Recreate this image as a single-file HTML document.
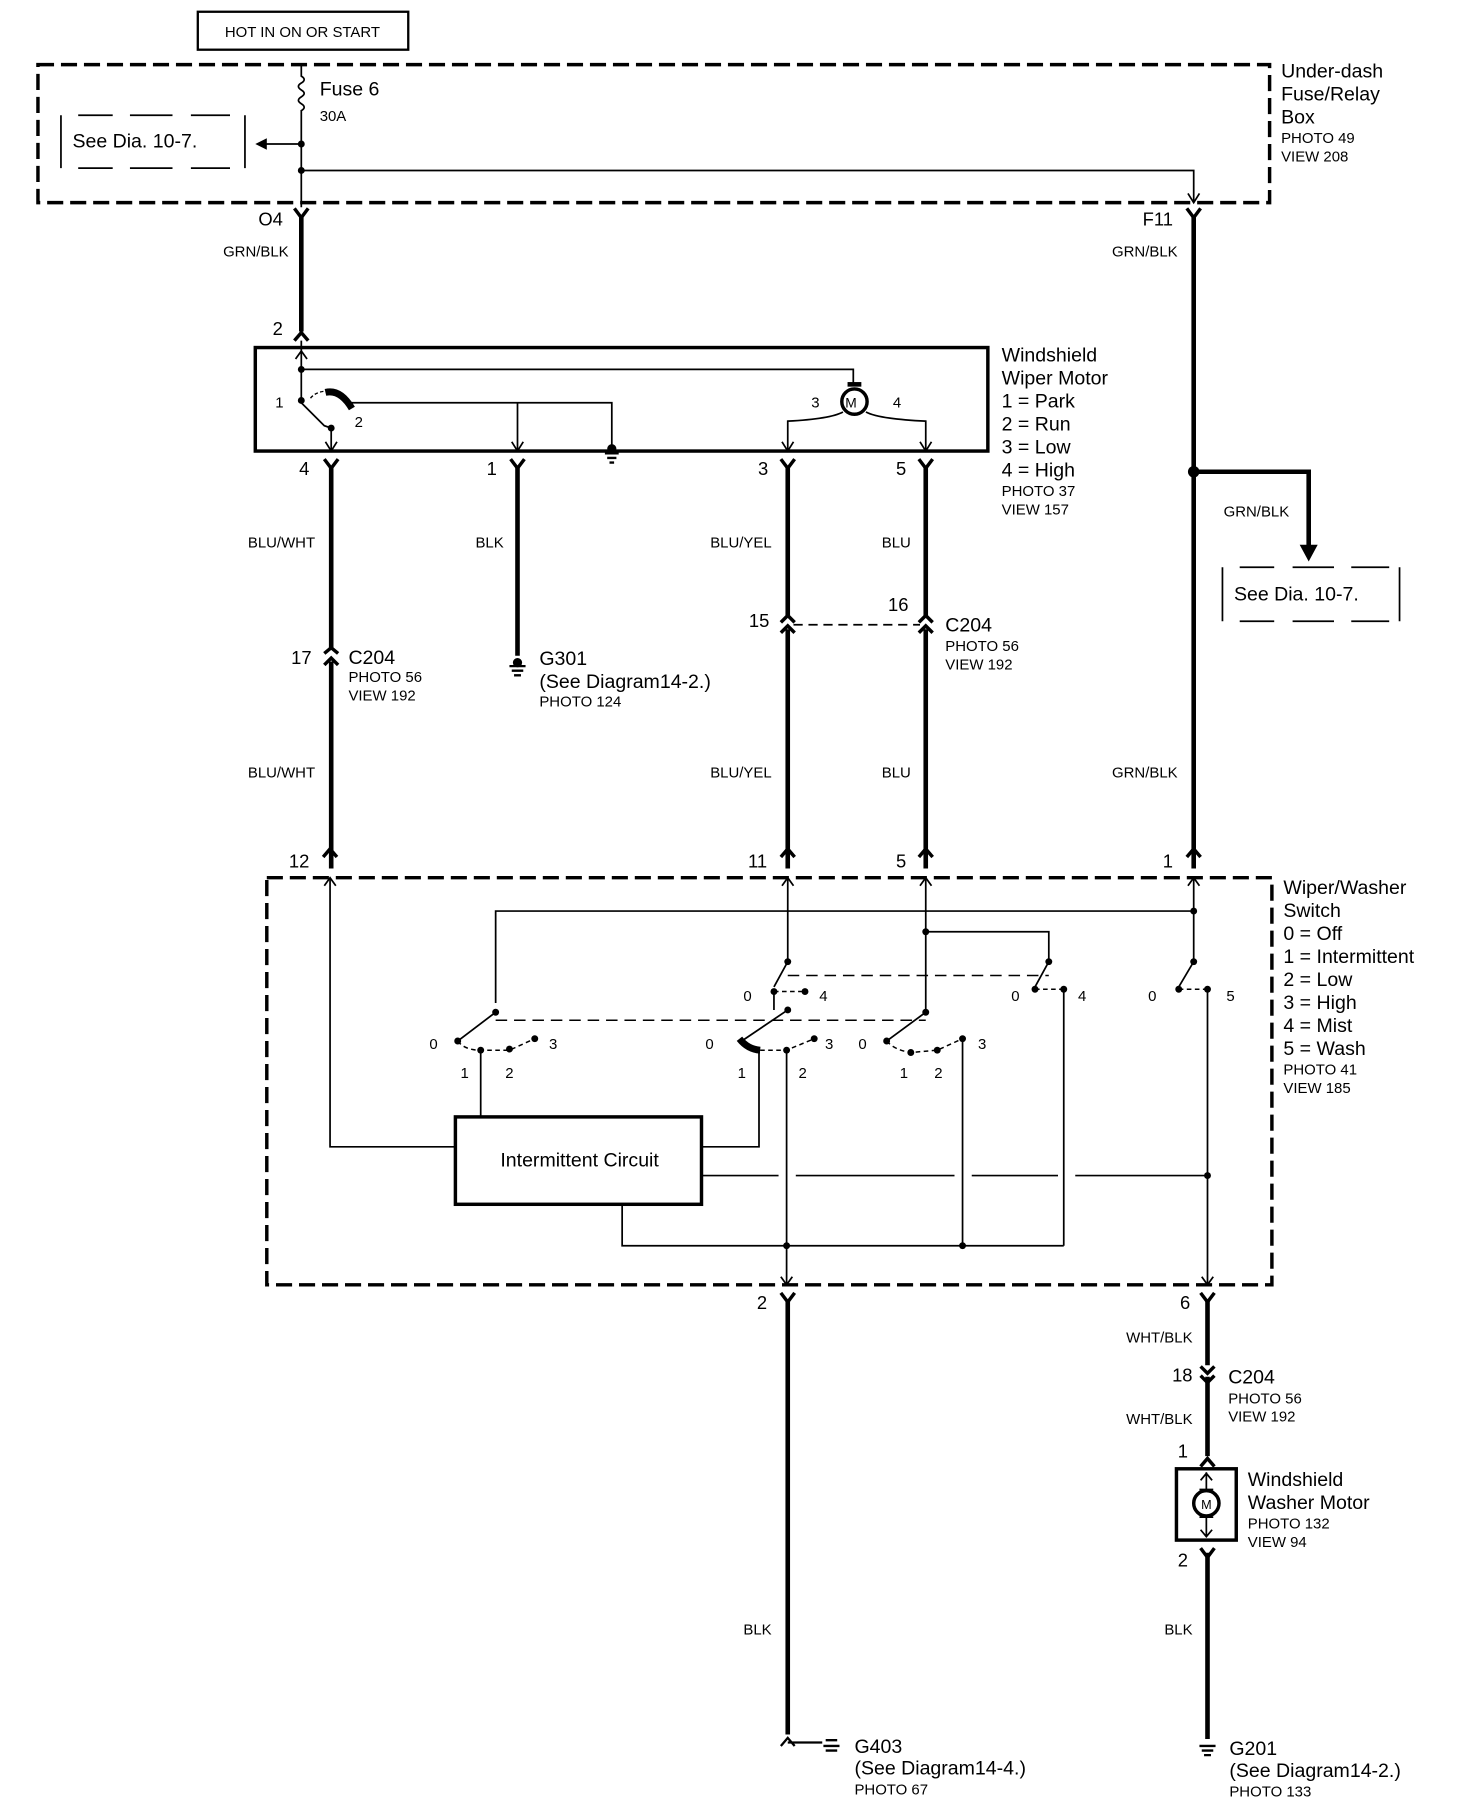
<!DOCTYPE html>
<html><head><meta charset="utf-8"><style>
html,body{margin:0;padding:0;background:#fff}
svg{display:block}
text{font-family:"Liberation Sans",Arial,sans-serif;fill:#000}
.L{font-size:17px}.S{font-size:13px}.W{font-size:13px}.N{font-size:16px}
</style></head><body>
<svg width="1472" height="1806" viewBox="0 0 1280 1570" xmlns="http://www.w3.org/2000/svg">
<g fill="none" stroke="#000">
<!-- HOT box -->
<rect x="172" y="10" width="183" height="33" stroke-width="2"/>
<!-- fuse box dashed -->
<rect x="33" y="56" width="1071" height="120" stroke-width="3" stroke-dasharray="14 6"/>
<!-- fuse -->
<path d="M262 56 V66 q5 3 0 6 q-5 3 0 6 q5 3 0 6 q-5 3 0 6 q5 3 0 6 V180" stroke-width="1.5"/>
<path d="M262 125 H228" stroke-width="1.5"/>
<path d="M262 148 H1038 V176" stroke-width="1.5"/>
<path d="M1033 168 L1038 176 L1043 168" stroke-width="1.5"/>
<!-- See Dia box left -->
<path d="M53 100 V146 M213 100 V146 M68 100 H98 M113 100 H150 M166 100 H200 M68 146 H98 M113 146 H150 M166 146 H200" stroke-width="1.5"/>
<!-- connectors O4 F11 -->
<path d="M256 181 L262 189 L268 181 M1032 181 L1038 189 L1044 181" stroke-width="3"/>
<path d="M262 188 V288 M1038 188 V755" stroke-width="4"/>
<path d="M256 296 L262 289 L268 296" stroke-width="3"/>
<!-- wiper motor box -->
<rect x="222" y="302" width="637" height="90" stroke-width="3"/>
<path d="M262 296 V348 M262 321 H742 V333" stroke-width="1.5"/>
<path d="M257 312 L262 305 L267 312" stroke-width="1.5"/>
<path d="M262 350 L282 370 L288 372 V392 M305 350 H532 V392 M450 350 V392" stroke-width="1.5"/>
<path d="M283 341 Q296 338 306 355" stroke-width="6"/>
<path d="M270 346 Q274 341 282 340" stroke-width="1.2" stroke-dasharray="3 2"/>
<path d="M283 384 L288 392 L293 384 M445 384 L450 392 L455 384 M680 384 L685 392 L690 384 M800 384 L805 392 L810 384" stroke-width="1.5"/>
<circle cx="743" cy="349" r="11" stroke-width="3"/>
<path d="M737 334 H749" stroke-width="4"/>
<path d="M733 358 Q722 364 685 366 V392 M753 358 Q764 364 805 366 V392" stroke-width="1.5"/>
<path d="M526 394 H538 M528 398 H536 M530 402 H534" stroke-width="2"/>
<!-- motor bottom connectors -->
<path d="M282 399 L288 407 L294 399 M444 399 L450 407 L456 399 M679 399 L685 407 L691 399 M799 399 L805 407 L811 399" stroke-width="3"/>
<path d="M288 405 V565 M288 575 V755 M450 405 V570 M685 405 V537 M685 547 V755 M805 405 V537 M805 547 V755" stroke-width="4"/>
<path d="M282 568 L288 563 L294 568 M282 578 L288 572 L294 578 M679 541 L685 535 L691 541 M679 550 L685 544 L691 550 M799 541 L805 535 L811 541 M799 550 L805 544 L811 550" stroke-width="3"/>
<path d="M690 543 H800" stroke-width="1.5" stroke-dasharray="8 5"/>
<path d="M443 579 H457 M445 583 H455 M447 587 H453" stroke-width="2"/>
<!-- F11 branch -->
<path d="M1038 410 H1138 V478" stroke-width="4"/>
<path d="M1131 474 L1138 487 L1145 474 Z" fill="#000" stroke-width="1"/>
<path d="M1063 493 V540 M1217 493 V540 M1078 493 H1108 M1124 493 H1160 M1175 493 H1208 M1078 540 H1108 M1124 540 H1160 M1175 540 H1208" stroke-width="1.5"/>
<!-- switch box -->
<rect x="232" y="763" width="874" height="354" stroke-width="3" stroke-dasharray="14 6"/>
<path d="M281 745 L287 738 L293 745 M679 745 L685 738 L691 745 M799 745 L805 738 L811 745 M1032 745 L1038 738 L1044 745" stroke-width="3"/>
<path d="M282 770 L287 763 L292 770 M680 770 L685 763 L690 770 M800 770 L805 763 L810 770 M1033 770 L1038 763 L1043 770" stroke-width="1.5"/>
<path d="M287 763 V997 H396 M431 872 V792 H1038 M1038 763 V836 L1025 858 M685 763 V836 L673 858 M673 862 V878 M685 878 L645 905 M805 763 V880 L771 905 M805 810 H912 V836 L900 858 M418 913 V971 M660 912 V997 H610 M684 913 V1117 M925 860 V1083 M837 903 V1083 M1050 860 V1117 M541 1047 V1083 H925 M610 1022 H677 M692 1022 H830 M845 1022 H920 M935 1022 H1050 M431 880 L398 905" stroke-width="1.5"/>
<path d="M643 903 Q650 912 661 913" stroke-width="6"/>
<path d="M431 887 H805 M685 848 H912" stroke-width="1.3" stroke-dasharray="10 6"/>
<path d="M398 905 Q404 913 418 913 H443 L465 903 M673 862 H700 M900 860 H925 M1025 860 H1050 M661 913 H684 L708 903 M771 905 Q778 913 792 915 L815 913 L837 903" stroke-width="1.3" stroke-dasharray="4 3"/>
<rect x="396" y="971" width="214" height="76" stroke-width="3"/>
<path d="M679 1110 L684 1117 L689 1110 M1045 1110 L1050 1117 L1055 1110" stroke-width="1.5"/>
<!-- bottom -->
<path d="M679 1124 L685 1132 L691 1124 M1044 1124 L1050 1132 L1056 1124" stroke-width="3"/>
<path d="M685 1130 V1508 M1050 1130 V1187 M1050 1197 V1266 M1050 1350 V1512" stroke-width="4"/>
<path d="M1044 1188 L1050 1194 L1056 1188 M1044 1196 L1050 1202 L1056 1196 M1044 1275 L1050 1268 L1056 1275 M1044 1346 L1050 1354 L1056 1346" stroke-width="3"/>
<path d="M679 1518 L685 1511 L691 1518 M685 1515 H715" stroke-width="2"/>
<path d="M718 1513 H728 M716 1518 H730 M718 1522 H728" stroke-width="2"/>
<path d="M1043 1518 H1057 M1045 1522 H1055 M1047 1526 H1053" stroke-width="2"/>
<rect x="1023" y="1277" width="52" height="62" stroke-width="3"/>
<circle cx="1049" cy="1307" r="11" stroke-width="3"/>
<path d="M1049 1280 V1296 M1049 1318 V1336 M1044 1287 L1049 1281 L1054 1287 M1044 1330 L1049 1336 L1054 1330 M1043 1295 H1055 M1043 1319 H1055" stroke-width="1.5"/>
</g>
<g fill="#000">
<path d="M222 125 L232 120 V130 Z"/>
<circle cx="262" cy="125" r="3"/><circle cx="262" cy="148" r="3"/>
<circle cx="262" cy="321" r="3"/><circle cx="262" cy="348" r="3"/><circle cx="288" cy="372" r="3"/>
<circle cx="532" cy="390" r="4"/><circle cx="450" cy="576" r="4"/>
<circle cx="1038" cy="410" r="5"/>
<circle cx="1038" cy="792" r="3"/><circle cx="1038" cy="836" r="3"/><circle cx="1025" cy="860" r="3"/><circle cx="1050" cy="860" r="3"/>
<circle cx="685" cy="836" r="3"/><circle cx="673" cy="862" r="3"/><circle cx="700" cy="862" r="3"/>
<circle cx="912" cy="836" r="3"/><circle cx="900" cy="860" r="3"/><circle cx="925" cy="860" r="3"/>
<circle cx="805" cy="810" r="3"/><circle cx="431" cy="880" r="3"/><circle cx="685" cy="878" r="3"/><circle cx="805" cy="880" r="3"/>
<circle cx="398" cy="905" r="3"/><circle cx="418" cy="913" r="3"/><circle cx="443" cy="912" r="3"/><circle cx="465" cy="903" r="3"/>
<circle cx="684" cy="913" r="3"/><circle cx="708" cy="903" r="3"/>
<circle cx="771" cy="905" r="3"/><circle cx="792" cy="915" r="3"/><circle cx="815" cy="913" r="3"/><circle cx="837" cy="903" r="3"/>
<circle cx="1050" cy="1022" r="3"/><circle cx="684" cy="1083" r="3"/><circle cx="837" cy="1083" r="3"/>
</g>
<text x="263" y="32" class="S" text-anchor="middle">HOT IN ON OR START</text>
<text x="278" y="83" class="L">Fuse 6</text><text x="278" y="105" class="S">30A</text>
<text x="63" y="128" class="L">See Dia. 10-7.</text>
<text x="1114" y="67" class="L">Under-dash</text><text x="1114" y="87" class="L">Fuse/Relay</text><text x="1114" y="107" class="L">Box</text>
<text x="1114" y="124" class="S">PHOTO 49</text><text x="1114" y="140" class="S">VIEW 208</text>
<text x="246" y="196" class="N" text-anchor="end">O4</text><text x="1020" y="196" class="N" text-anchor="end">F11</text>
<text x="251" y="223" class="W" text-anchor="end">GRN/BLK</text><text x="1024" y="223" class="W" text-anchor="end">GRN/BLK</text>
<text x="246" y="291" class="N" text-anchor="end">2</text>
<text x="243" y="354" class="S" text-anchor="middle">1</text><text x="312" y="371" class="S" text-anchor="middle">2</text>
<text x="709" y="354" class="S" text-anchor="middle">3</text><text x="780" y="354" class="S" text-anchor="middle">4</text>
<text x="740" y="354" style="font-size:12px" text-anchor="middle">M</text>
<text x="871" y="314" class="L">Windshield</text><text x="871" y="334" class="L">Wiper Motor</text>
<text x="871" y="354" class="L">1 = Park</text><text x="871" y="374" class="L">2 = Run</text><text x="871" y="394" class="L">3 = Low</text><text x="871" y="414" class="L">4 = High</text>
<text x="871" y="431" class="S">PHOTO 37</text><text x="871" y="447" class="S">VIEW 157</text>
<text x="269" y="413" class="N" text-anchor="end">4</text><text x="432" y="413" class="N" text-anchor="end">1</text>
<text x="668" y="413" class="N" text-anchor="end">3</text><text x="788" y="413" class="N" text-anchor="end">5</text>
<text x="274" y="476" class="W" text-anchor="end">BLU/WHT</text><text x="438" y="476" class="W" text-anchor="end">BLK</text>
<text x="671" y="476" class="W" text-anchor="end">BLU/YEL</text><text x="792" y="476" class="W" text-anchor="end">BLU</text>
<text x="1064" y="449" class="W">GRN/BLK</text>
<text x="1073" y="522" class="L">See Dia. 10-7.</text>
<text x="669" y="545" class="N" text-anchor="end">15</text><text x="790" y="531" class="N" text-anchor="end">16</text>
<text x="822" y="549" class="L">C204</text><text x="822" y="566" class="S">PHOTO 56</text><text x="822" y="582" class="S">VIEW 192</text>
<text x="271" y="577" class="N" text-anchor="end">17</text>
<text x="303" y="577" class="L">C204</text><text x="303" y="593" class="S">PHOTO 56</text><text x="303" y="609" class="S">VIEW 192</text>
<text x="469" y="578" class="L">G301</text><text x="469" y="598" class="L">(See Diagram14-2.)</text><text x="469" y="614" class="S">PHOTO 124</text>
<text x="274" y="676" class="W" text-anchor="end">BLU/WHT</text><text x="671" y="676" class="W" text-anchor="end">BLU/YEL</text>
<text x="792" y="676" class="W" text-anchor="end">BLU</text><text x="1024" y="676" class="W" text-anchor="end">GRN/BLK</text>
<text x="269" y="754" class="N" text-anchor="end">12</text><text x="667" y="754" class="N" text-anchor="end">11</text>
<text x="788" y="754" class="N" text-anchor="end">5</text><text x="1020" y="754" class="N" text-anchor="end">1</text>
<text x="1116" y="777" class="L">Wiper/Washer</text><text x="1116" y="797" class="L">Switch</text>
<text x="1116" y="817" class="L">0 = Off</text><text x="1116" y="837" class="L">1 = Intermittent</text><text x="1116" y="857" class="L">2 = Low</text>
<text x="1116" y="877" class="L">3 = High</text><text x="1116" y="897" class="L">4 = Mist</text><text x="1116" y="917" class="L">5 = Wash</text>
<text x="1116" y="934" class="S">PHOTO 41</text><text x="1116" y="950" class="S">VIEW 185</text>
<g class="S">
<text x="650" y="870" text-anchor="middle">0</text><text x="716" y="870" text-anchor="middle">4</text>
<text x="883" y="870" text-anchor="middle">0</text><text x="941" y="870" text-anchor="middle">4</text>
<text x="1002" y="870" text-anchor="middle">0</text><text x="1070" y="870" text-anchor="middle">5</text>
<text x="377" y="912" text-anchor="middle">0</text><text x="481" y="912" text-anchor="middle">3</text>
<text x="404" y="937" text-anchor="middle">1</text><text x="443" y="937" text-anchor="middle">2</text>
<text x="617" y="912" text-anchor="middle">0</text><text x="721" y="912" text-anchor="middle">3</text>
<text x="645" y="937" text-anchor="middle">1</text><text x="698" y="937" text-anchor="middle">2</text>
<text x="750" y="912" text-anchor="middle">0</text><text x="854" y="912" text-anchor="middle">3</text>
<text x="786" y="937" text-anchor="middle">1</text><text x="816" y="937" text-anchor="middle">2</text>
</g>
<text x="504" y="1014" class="L" text-anchor="middle">Intermittent Circuit</text>
<text x="667" y="1138" class="N" text-anchor="end">2</text><text x="1035" y="1138" class="N" text-anchor="end">6</text>
<text x="1037" y="1167" class="W" text-anchor="end">WHT/BLK</text>
<text x="1037" y="1201" class="N" text-anchor="end">18</text>
<text x="1068" y="1203" class="L">C204</text><text x="1068" y="1220" class="S">PHOTO 56</text><text x="1068" y="1236" class="S">VIEW 192</text>
<text x="1037" y="1238" class="W" text-anchor="end">WHT/BLK</text>
<text x="1033" y="1267" class="N" text-anchor="end">1</text>
<text x="1049" y="1312" style="font-size:11px" text-anchor="middle">M</text>
<text x="1085" y="1292" class="L">Windshield</text><text x="1085" y="1312" class="L">Washer Motor</text>
<text x="1085" y="1329" class="S">PHOTO 132</text><text x="1085" y="1345" class="S">VIEW 94</text>
<text x="1033" y="1362" class="N" text-anchor="end">2</text>
<text x="671" y="1421" class="W" text-anchor="end">BLK</text><text x="1037" y="1421" class="W" text-anchor="end">BLK</text>
<text x="743" y="1524" class="L">G403</text><text x="743" y="1543" class="L">(See Diagram14-4.)</text><text x="743" y="1560" class="S">PHOTO 67</text>
<text x="1069" y="1526" class="L">G201</text><text x="1069" y="1545" class="L">(See Diagram14-2.)</text><text x="1069" y="1562" class="S">PHOTO 133</text>
</svg>
</body></html>
